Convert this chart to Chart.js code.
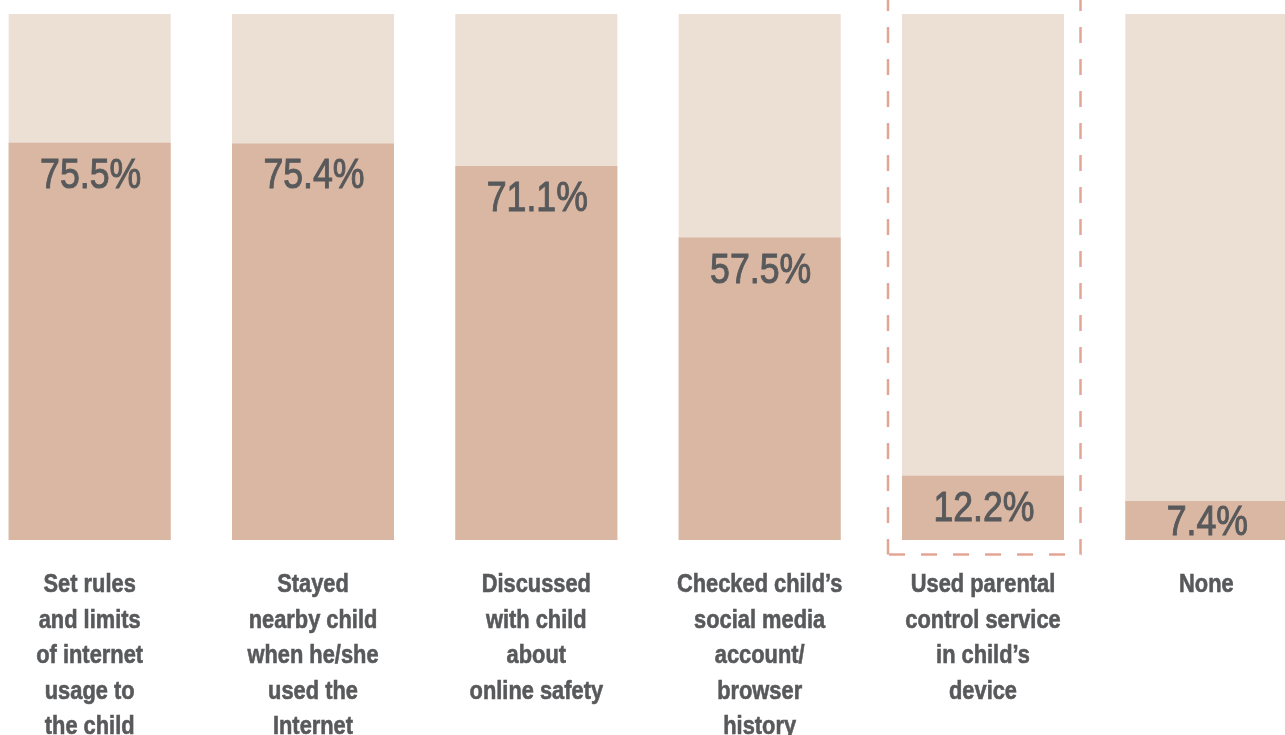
<!DOCTYPE html>
<html>
<head>
<meta charset="utf-8">
<title>Parental actions</title>
<script src="https://cdn.jsdelivr.net/npm/chart.js@4/dist/chart.umd.min.js"></script>
<style>
  html, body { margin: 0; padding: 0; width: 1285px; height: 735px; overflow: hidden; background: #fff; }
  #wrap { position: absolute; left: -22px; top: 0; width: 1340px; height: 760px; }
</style>
</head>
<body>
<div id="wrap"><canvas id="chart-actions" width="1340" height="760"></canvas></div>
<script>
/* ------------------------------------------------------------
   Actions taken by parents – share of respondents (%)
   ------------------------------------------------------------ */

const CATEGORIES = [
  ['Set rules', 'and limits', 'of internet', 'usage to', 'the child'],
  ['Stayed', 'nearby child', 'when he/she', 'used the', 'Internet'],
  ['Discussed', 'with child', 'about', 'online safety'],
  ['Checked child\u2019s', 'social media', 'account/', 'browser', 'history'],
  ['Used parental', 'control service', 'in child\u2019s', 'device'],
  ['None'],
];
const SHARE = [75.5, 75.4, 71.1, 57.5, 12.2, 7.4];
const TRACK = [100, 100, 100, 100, 100, 100];
const HIGHLIGHT_INDEX = 4;

const COLORS = {
  bar:   '#dab7a2',
  track: '#ecdfd4',
  text:  '#58595b',
  box:   '#e3a595',
};

// narrow type: regular face squeezed horizontally, lightly stroked for weight
function narrowText(ctx, text, x, y, squeeze, weight) {
  ctx.save();
  ctx.translate(x, y);
  ctx.scale(squeeze, 1);
  ctx.fillText(text, 0, 0);
  if (weight) {
    ctx.lineWidth = weight;
    ctx.strokeStyle = ctx.fillStyle;
    ctx.strokeText(text, 0, 0);
  }
  ctx.restore();
}

// value labels sit near the top of each bar, centred when the bar is short
const valueLabels = {
  id: 'valueLabels',
  afterDatasetsDraw(chart) {
    const ctx = chart.ctx;
    const meta = chart.getDatasetMeta(0);
    ctx.save();
    ctx.font = '42px "Liberation Sans", Arial, sans-serif';
    ctx.fillStyle = COLORS.text;
    ctx.textAlign = 'center';
    ctx.textBaseline = 'alphabetic';
    meta.data.forEach((bar, i) => {
      const mid = Math.min(bar.y + 30, (bar.y + bar.base) / 2 - 1);
      narrowText(ctx, SHARE[i].toFixed(1) + '%', bar.x + 1, mid + 15, 0.85, 1);
    });
    ctx.restore();
  },
};

// multi-line category names under the x axis
const categoryLabels = {
  id: 'categoryLabels',
  afterDraw(chart) {
    const ctx = chart.ctx;
    const xScale = chart.scales.x;
    const top = chart.chartArea.bottom + 52;
    ctx.save();
    ctx.font = 'bold 26px "Liberation Sans", Arial, sans-serif';
    ctx.fillStyle = COLORS.text;
    ctx.textAlign = 'center';
    ctx.textBaseline = 'alphabetic';
    CATEGORIES.forEach((lines, i) => {
      const x = xScale.getPixelForTick(i);
      lines.forEach((line, j) => narrowText(ctx, line, x, top + j * 35.6, 0.84, 0.6));
    });
    ctx.restore();
  },
};

// dashed frame around the highlighted column
const highlightBox = {
  id: 'highlightBox',
  afterDraw(chart) {
    const bar = chart.getDatasetMeta(0).data[HIGHLIGHT_INDEX];
    if (!bar) return;
    const ctx = chart.ctx;
    const left = bar.x - bar.width / 2 - 14;
    const right = bar.x + bar.width / 2 + 16.5;
    const bottom = chart.chartArea.bottom + 14.5;
    ctx.save();
    ctx.strokeStyle = COLORS.box;
    ctx.lineWidth = 2.5;
    ctx.setLineDash([16, 16]);
    ctx.lineDashOffset = 5;
    ctx.beginPath();
    ctx.moveTo(left, 0);
    ctx.lineTo(left, bottom);
    ctx.stroke();
    ctx.beginPath();
    ctx.moveTo(right, 0);
    ctx.lineTo(right, bottom);
    ctx.stroke();
    ctx.lineDashOffset = 0;
    ctx.beginPath();
    ctx.moveTo(left + 1, bottom);
    ctx.lineTo(right + 1, bottom);
    ctx.stroke();
    ctx.restore();
  },
};

new Chart(document.getElementById('chart-actions'), {
  type: 'bar',
  data: {
    labels: CATEGORIES,
    datasets: [
      {
        label: 'Share',
        data: SHARE,
        backgroundColor: COLORS.bar,
        order: 0,
      },
      {
        label: 'Track',
        data: TRACK,
        backgroundColor: COLORS.track,
        order: 1,
      },
    ],
  },
  options: {
    responsive: false,
    devicePixelRatio: 1,
    animation: false,
    layout: { padding: { top: 14, left: 0, right: 0, bottom: 0 } },
    datasets: {
      bar: {
        grouped: false,
        categoryPercentage: 1,
        barPercentage: 0.7254,
        borderWidth: 0,
      },
    },
    plugins: {
      legend: { display: false },
      tooltip: { enabled: false },
    },
    scales: {
      x: {
        grid: { display: false, drawTicks: false },
        border: { display: false },
        ticks: { display: false },
        afterFit(scale) { scale.height = 220; },
      },
      y: {
        display: false,
        min: 0,
        max: 100,
      },
    },
  },
  plugins: [valueLabels, categoryLabels, highlightBox],
});
</script>
</body>
</html>
